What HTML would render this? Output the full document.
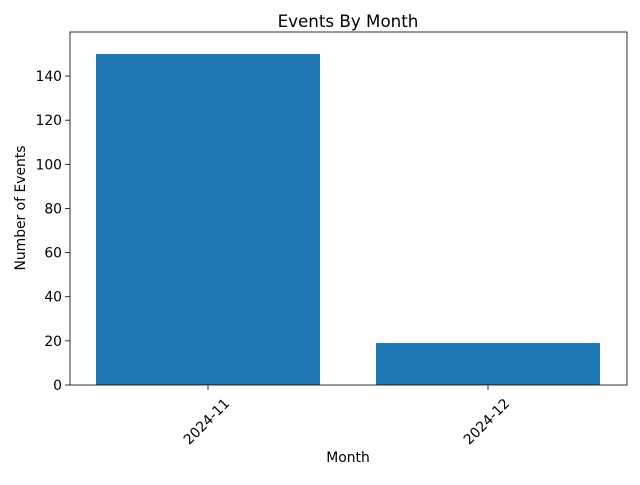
<!DOCTYPE html>
<html><head><meta charset="utf-8"><style>body{margin:0;background:#fff}svg{font-family:"DejaVu Sans","Liberation Sans",sans-serif}</style></head>
<body>
<svg width="640" height="480">
<rect width="640" height="480" fill="#fff"/>
<g id="plot"></g>
<text x="348" y="27" text-anchor="middle" font-size="16.7">Events By Month</text>
<text x="348" y="462" text-anchor="middle" font-size="13.9">Month</text>
<text transform="translate(25,208) rotate(-90)" text-anchor="middle" font-size="13.9">Number of Events</text>
</svg>
<script>
const categories = ["2024-11", "2024-12"];
const values = [150, 19];
const yTicks = [0, 20, 40, 60, 80, 100, 120, 140];
const NS = "http://www.w3.org/2000/svg";
const g = document.getElementById("plot");
const L = 70, R = 627, T = 32, B = 385;
function x(v){ return 208 + 280 * v; }
function y(v){ return B - v * (B - 54) / 150; }
function mk(tag, attrs){ const e = document.createElementNS(NS, tag); for (const k in attrs) e.setAttribute(k, attrs[k]); g.appendChild(e); return e; }
values.forEach((v, i) => {
  const r = mk("rect", {x: x(i - 0.4), y: y(v), width: x(i + 0.4) - x(i - 0.4), height: y(0) - y(v), fill: "#1f77b4"});
  
  
  const t = mk("line", {x1: x(i), x2: x(i), y1: B, y2: B + 5, stroke: "#000", "stroke-width": 0.8});
  
  
  const lb = mk("text", {transform: `translate(${x(i) - 1},${B + 37}) rotate(-45)`, "text-anchor": "middle", "dominant-baseline": "middle", "font-size": 13.9});
  lb.textContent = categories[i];
  
  
});
yTicks.forEach(v => {
  const t = mk("line", {x1: L - 5, x2: L, y1: y(v), y2: y(v), stroke: "#000", "stroke-width": 0.8});
  
  
  const lb = mk("text", {x: L - 8, y: y(v) + 5, "text-anchor": "end", "font-size": 13.9});
  lb.textContent = v;
  
  
});
const frame = mk("rect", {x: L, y: T, width: R - L, height: B - T, fill: "none", stroke: "#000", "stroke-width": 0.8});


</script>
</body></html>
